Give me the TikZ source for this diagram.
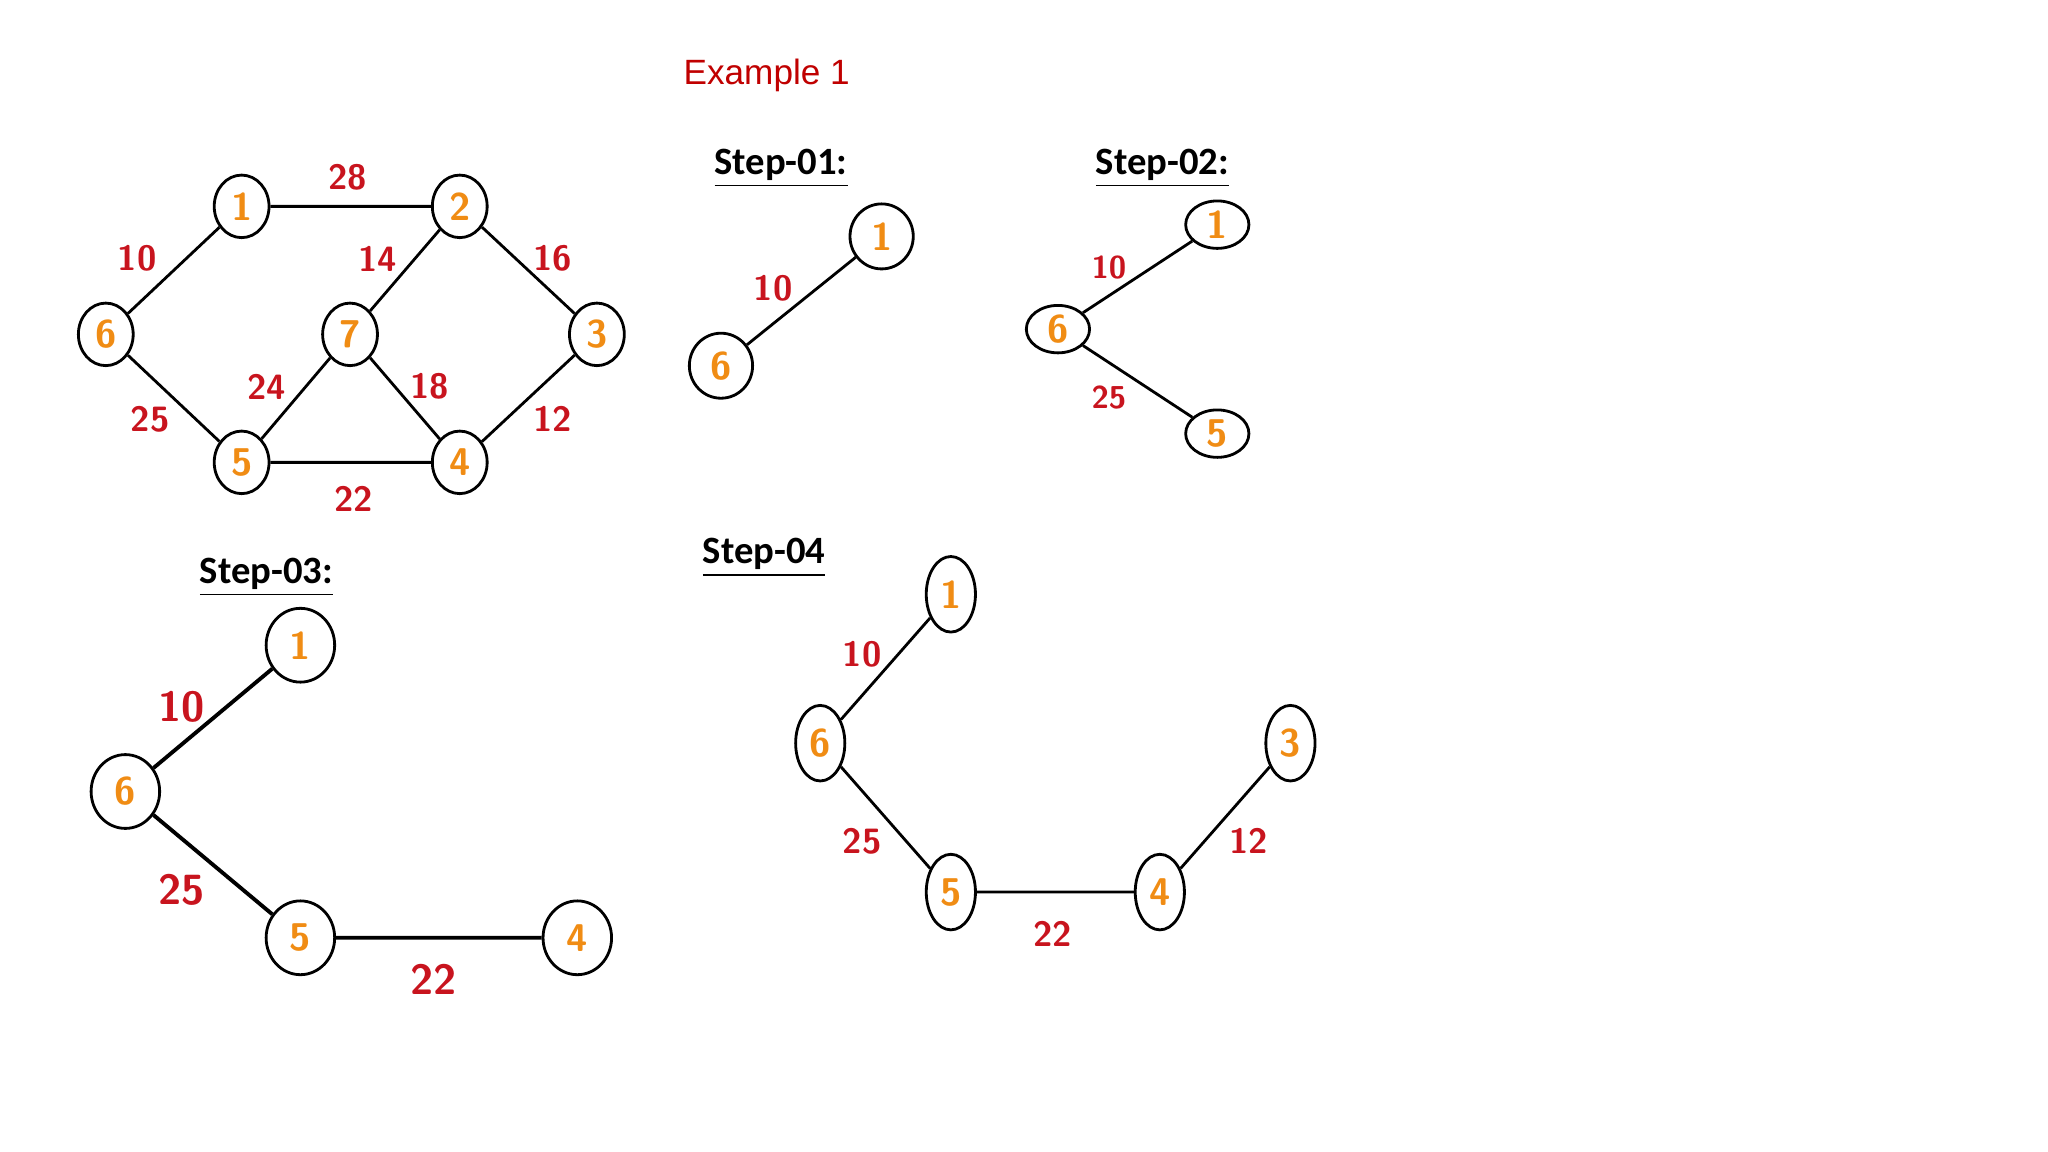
\documentclass[tikz,border=0pt]{standalone}
\usepackage{fontspec}
\setmainfont{Carlito}
\newfontfamily\ariel{Liberation Sans}
\usetikzlibrary{shapes.geometric}
\definecolor{wred}{RGB}{200,20,30}
\definecolor{norg}{RGB}{240,140,20}
\definecolor{tred}{RGB}{192,0,0}
\begin{document}
\begin{tikzpicture}[x=0.01306cm,y=-0.01306cm,
 nd/.style={ellipse,draw,line width=0.8pt,inner sep=0pt,text=norg,font=\sffamily\bfseries\fontsize{11}{11}\selectfont},
 wt/.style={text=wred,font=\sffamily\bfseries\fontsize{10}{10}\selectfont},
 ed/.style={line width=0.8pt},
 ttl/.style={font=\bfseries\fontsize{11}{11}\selectfont}]
\useasboundingbox (0,0) rectangle (1568,882);
\node[text=tred,font=\ariel\fontsize{10}{10}\selectfont] (ex) at (587,58) {Example 1};
% main graph
\begin{scope}[every node/.append style={minimum width=15.6pt,minimum height=17.8pt}]
\node[nd] (a1) at (185,158) {1};
\node[nd] (a2) at (352,158) {2};
\node[nd] (a3) at (457,256) {3};
\node[nd] (a4) at (352,354) {4};
\node[nd] (a5) at (185,354) {5};
\node[nd] (a6) at (81,256) {6};
\node[nd] (a7) at (268,256) {7};
\end{scope}
\draw[ed] (a1)--(a2) (a1)--(a6) (a2)--(a7) (a2)--(a3) (a6)--(a5) (a7)--(a5) (a7)--(a4) (a3)--(a4) (a5)--(a4);
\node[wt] (w28) at (266,136) {28};
\node[wt] (w10) at (105,198) {10};
\node[wt] (w14) at (289,198) {14};
\node[wt] (w16) at (423,198) {16};
\node[wt] (w24) at (204,296) {24};
\node[wt] (w18) at (329,296) {18};
\node[wt] (w25) at (115,321) {25};
\node[wt] (w12) at (423,321) {12};
\node[wt] (w22) at (271,382) {22};
% step 1
\node[ttl] (s1) at (598,129) {\underline{Step-01:}};
\begin{scope}[every node/.append style={minimum width=18pt,minimum height=18.5pt}]
\node[nd] (b1) at (675,181) {1};
\node[nd] (b6) at (552,280) {6};
\end{scope}
\draw[ed] (b1)--(b6);
\node[wt] (bw10) at (592,221) {10};
% step 2
\node[ttl] (s2) at (890,129) {\underline{Step-02:}};
\begin{scope}[every node/.append style={minimum width=18pt,minimum height=13.5pt,font=\sffamily\bfseries\fontsize{9}{9}\selectfont}]
\node[nd] (c1) at (932,172) {1};
\node[nd] (c6) at (810,252) {6};
\node[nd] (c5) at (932,332) {5};
\end{scope}
\draw[ed] (c1)--(c6) (c6)--(c5);
\node[wt,font=\sffamily\bfseries\fontsize{9}{9}\selectfont] (cw10) at (849,205) {10};
\node[wt,font=\sffamily\bfseries\fontsize{9}{9}\selectfont] (cw25) at (849,304) {25};
% step 3
\node[ttl] (s3) at (204,442) {\underline{Step-03:}};
\begin{scope}[every node/.append style={minimum width=19.5pt,minimum height=21pt,line width=1.1pt,font=\sffamily\bfseries\fontsize{13}{13}\selectfont}]
\node[nd] (d1) at (230,494) {1};
\node[nd] (d6) at (96,606) {6};
\node[nd] (d5) at (230,718) {5};
\node[nd] (d4) at (442,718) {4};
\end{scope}
\draw[line width=1.1pt] (d1)--(d6) (d6)--(d5) (d5)--(d4);
\node[wt,font=\sffamily\bfseries\fontsize{12}{12}\selectfont] (dw10) at (139,541) {10};
\node[wt,font=\sffamily\bfseries\fontsize{12}{12}\selectfont] (dw25) at (139,681) {25};
\node[wt,font=\sffamily\bfseries\fontsize{12}{12}\selectfont] (dw22) at (332,750) {22};
% step 4
\node[ttl] (s4) at (585,427) {\underline{Step-04}};
\begin{scope}[every node/.append style={minimum width=14pt,minimum height=21.5pt}]
\node[nd] (e1) at (728,455) {1};
\node[nd] (e6) at (628,569) {6};
\node[nd] (e5) at (728,683) {5};
\node[nd] (e4) at (888,683) {4};
\node[nd] (e3) at (988,569) {3};
\end{scope}
\draw[ed] (e1)--(e6) (e6)--(e5) (e5)--(e4) (e4)--(e3);
\node[wt] (ew10) at (660,501) {10};
\node[wt] (ew25) at (660,644) {25};
\node[wt] (ew22) at (806,715) {22};
\node[wt] (ew12) at (956,644) {12};
\end{tikzpicture}
\end{document}
